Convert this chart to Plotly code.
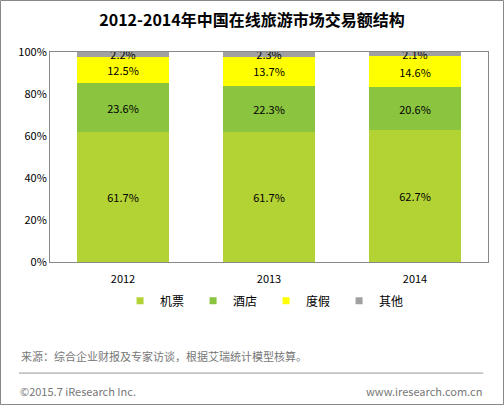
import plotly.graph_objects as go

# data
years = ["2012", "2013", "2014"]
air = [61.7, 61.7, 62.7]
hotel = [23.6, 22.3, 20.6]
vacation = [12.5, 13.7, 14.6]
other = [2.2, 2.3, 2.1]

series_names = ["机票", "酒店", "度假", "其他"]
series_values = [air, hotel, vacation, other]
colors = ["#B3D234", "#8BC43F", "#FFFF00", "#A0A0A0"]

y_ticks = [0, 20, 40, 60, 80, 100]
y_tick_text = [f"{t}%" for t in y_ticks]

font = "Noto Sans CJK SC"

fig = go.Figure()
for name, vals, col in zip(series_names, series_values, colors):
    fig.add_trace(go.Bar(
        x=years, y=vals, name=name, showlegend=False,
        marker=dict(color=col, line=dict(width=0)),
        text=[f"{v:.1f}%" for v in vals],
        textposition="inside", insidetextanchor="middle",
        textfont=dict(color="#000000", size=11, family=font),
        hoverinfo="skip",
    ))
    # small square legend keys like the original
    fig.add_trace(go.Scatter(
        x=[None], y=[None], mode="markers", name=name,
        marker=dict(symbol="square", size=7, color=col),
        hoverinfo="skip",
    ))

fig.update_layout(
    barmode="stack",
    bargap=0.375,
    width=504, height=405,
    margin=dict(l=50, r=16, t=52, b=143),
    paper_bgcolor="white", plot_bgcolor="white",
    font=dict(family=font, color="#000000", size=11),
    uniformtext=dict(minsize=11, mode="show"),
    title=dict(text="<b>2012-2014年中国在线旅游市场交易额结构</b>",
               x=0.5, xanchor="center", y=0.95, yanchor="middle",
               font=dict(size=16, family=font, color="#000000")),
    xaxis=dict(showline=True, linecolor="#888888", linewidth=1, mirror=True,
               ticks="outside", ticklen=7, tickcolor="rgba(0,0,0,0)",
               tickfont=dict(size=11, color="#000000"),
               showgrid=False),
    yaxis=dict(range=[0, 100], tickvals=y_ticks, ticktext=y_tick_text,
               showline=True, linecolor="#888888", linewidth=1, mirror=True,
               showgrid=False, zeroline=False, ticks="", ticklen=0,
               tickfont=dict(size=11, color="#000000")),
    legend=dict(orientation="h", x=0.16, xanchor="left", y=-0.185, yanchor="middle",
                font=dict(size=12, family=font, color="#000000"),
                traceorder="normal", itemwidth=30,
                entrywidthmode="pixels", entrywidth=28),
    showlegend=True,
)

# source / footer
fig.add_annotation(text="来源：综合企业财报及专家访谈，根据艾瑞统计模型核算。",
                   xref="paper", yref="paper", x=-0.071, xanchor="left",
                   y=-0.448, yanchor="middle", showarrow=False,
                   font=dict(size=11, color="#777777", family=font))
fig.add_annotation(text="©2015.7 iResearch Inc.",
                   xref="paper", yref="paper", x=-0.073, xanchor="left",
                   y=-0.614, yanchor="middle", showarrow=False,
                   font=dict(size=11, color="#777777", family=font))
fig.add_annotation(text="www.iresearch.com.cn",
                   xref="paper", yref="paper", x=0.99, xanchor="right",
                   y=-0.614, yanchor="middle", showarrow=False,
                   font=dict(size=11, color="#777777", family=font))

# separator line and outer frame
fig.add_shape(type="line", xref="paper", yref="paper",
              x0=-0.071, x1=0.989, y0=-0.529, y1=-0.529,
              line=dict(color="#999999", width=1))
fig.add_shape(type="rect", xref="paper", yref="paper",
              x0=-49.5 / 438, x1=1 + 15.5 / 438, y0=-142.5 / 210, y1=1 + 51.5 / 210,
              line=dict(color="#888888", width=1))

# drop the browser's default page margin so the chart sits at the corner
fig.write_html("out.html", config={"displayModeBar": False},
               post_script="document.body.style.margin='0';")
